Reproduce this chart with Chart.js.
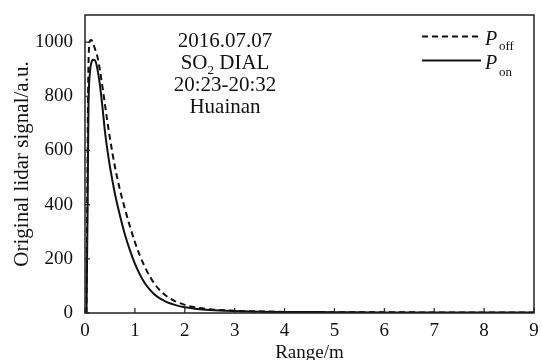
<!DOCTYPE html>
<html>
<head>
<meta charset="utf-8">
<script src="https://cdn.jsdelivr.net/npm/chart.js@4/dist/chart.umd.min.js"></script>
<style>
html,body{margin:0;padding:0;background:#fff;overflow:hidden;}
#wrap{width:542px;height:360px;}
</style>
</head>
<body>
<div id="wrap"><canvas id="c" width="542" height="360"></canvas></div>
<script>
// ---- data ----
const range = [0.03,0.05,0.07,0.1,0.13,0.16,0.2,0.25,0.3,0.35,0.4,0.45,0.5,0.6,0.7,0.8,0.9,1.0,1.1,1.2,1.3,1.4,1.5,1.6,1.7,1.8,2.0,2.2,2.5,3,3.5,4,5,6,7,8,9];
const signalOff = [0,550,920,1005,1008,995,975,945,895,835,770,705,645,540,455,385,320,262,212,170,135,106,84,67,54,44,30,21,14,8,6,4,3,3,2,2,2];
const signalOn  = [0,350,760,890,925,935,933,900,840,760,670,600,540,440,360,290,232,182,142,110,86,67,54,44,36,30,21,16,11,7,5,4,3,2,2,2,2];
const xTicks = [0,1,2,3,4,5,6,7,8,9];
const yTicks = [0,200,400,600,800,1000];
const annotation = ["2016.07.07", "SO|2| DIAL", "20:23-20:32", "Huainan"];
const legendLabels = [["P","off"],["P","on"]];

const SERIF = "'Liberation Serif','Times New Roman',serif";
const INK = '#111';

function pts(xs, ys){ return xs.map((x,i)=>({x:x,y:ys[i]})); }

const decor = {
  id:'decor',
  afterDraw(chart){
    const ctx = chart.ctx, a = chart.chartArea;
    const xs = chart.scales.x, ys = chart.scales.y;
    ctx.save();
    ctx.strokeStyle = '#222'; ctx.lineWidth = 1.5;
    ctx.strokeRect(a.left, a.top, a.right-a.left, a.bottom-a.top);
    ctx.lineWidth = 1.2;
    ctx.beginPath();
    xTicks.forEach(v=>{ const p = xs.getPixelForValue(v); ctx.moveTo(p, a.bottom); ctx.lineTo(p, a.bottom-5); });
    yTicks.forEach(v=>{ const p = ys.getPixelForValue(v); ctx.moveTo(a.left, p); ctx.lineTo(a.left+5, p); });
    ctx.stroke();

    ctx.fillStyle = INK;
    ctx.textBaseline = 'alphabetic';
    const cx = 225, base0 = 46.5, step = 22;
    annotation.forEach((line, i)=>{
      const y = base0 + i*step;
      const parts = line.split('|');
      if (parts.length === 1){
        ctx.font = '21px ' + SERIF; ctx.textAlign = 'center';
        ctx.fillText(line, cx, y);
      } else {
        ctx.font = '21px ' + SERIF;
        const w0 = ctx.measureText(parts[0]).width;
        const w2 = ctx.measureText(parts[2]).width;
        ctx.font = '13px ' + SERIF;
        const w1 = ctx.measureText(parts[1]).width;
        let x = cx - (w0+w1+w2)/2;
        ctx.textAlign = 'left';
        ctx.font = '21px ' + SERIF; ctx.fillText(parts[0], x, y); x += w0;
        ctx.font = '13px ' + SERIF; ctx.fillText(parts[1], x, y+5); x += w1;
        ctx.font = '21px ' + SERIF; ctx.fillText(parts[2], x, y);
      }
    });

    const rows = [{y:36.5, sub:47}, {y:60.5, sub:73}];
    chart.data.datasets.forEach((ds, i)=>{
      const r = rows[i];
      ctx.strokeStyle = ds.borderColor; ctx.lineWidth = ds.borderWidth;
      ctx.setLineDash(ds.borderDash || []);
      ctx.beginPath(); ctx.moveTo(422, r.y); ctx.lineTo(481, r.y); ctx.stroke();
      ctx.setLineDash([]);
      ctx.fillStyle = INK; ctx.textAlign = 'left'; ctx.textBaseline = 'middle';
      ctx.font = 'italic 20px ' + SERIF;
      ctx.fillText(legendLabels[i][0], 485, r.y + 3);
      ctx.font = '13px ' + SERIF;
      ctx.fillText(legendLabels[i][1], 499, r.sub);
    });
    ctx.restore();
  }
};

new Chart(document.getElementById('c'), {
  type:'line',
  data:{
    datasets:[
      { label:'P_off', data:pts(range, signalOff), borderColor:INK, borderWidth:2, borderDash:[6,4],
        pointRadius:0, fill:false, cubicInterpolationMode:'monotone' },
      { label:'P_on', data:pts(range, signalOn), borderColor:INK, borderWidth:2,
        pointRadius:0, fill:false, cubicInterpolationMode:'monotone' }
    ]
  },
  options:{
    responsive:false, animation:false, devicePixelRatio:1,
    layout:{ padding:{ top:15, right:8, left:0, bottom:0 } },
    plugins:{ legend:{display:false}, tooltip:{enabled:false} },
    scales:{
      x:{
        type:'linear', min:0, max:9,
        grid:{ display:false, drawTicks:false }, border:{ display:false },
        afterBuildTicks(s){ s.ticks = xTicks.map(v=>({value:v})); },
        afterFit(s){ s.height = 47; s.paddingLeft = 0; s.paddingRight = 0; },
        ticks:{ font:{ family:SERIF, size:19 }, color:INK, padding:7, maxRotation:0, autoSkip:false,
                callback:(v)=>String(v) },
        title:{ display:true, text:'Range/m', font:{ family:SERIF, size:19, lineHeight:1 }, color:INK, padding:{top:0,bottom:-3} }
      },
      y:{
        type:'linear', min:0, max:1100,
        grid:{ display:false, drawTicks:false }, border:{ display:false },
        afterBuildTicks(s){ s.ticks = yTicks.map(v=>({value:v})); },
        afterFit(s){ s.width = 85; s.paddingTop = 0; s.paddingBottom = 0; },
        ticks:{ font:{ family:SERIF, size:19 }, color:INK, padding:12, autoSkip:false,
                callback:(v)=>String(v) },
        title:{ display:true, text:'Original lidar signal/a.u.', font:{ family:SERIF, size:21, lineHeight:1 }, color:INK, padding:{top:12,bottom:0} }
      }
    }
  },
  plugins:[decor]
});
</script>
</body>
</html>
